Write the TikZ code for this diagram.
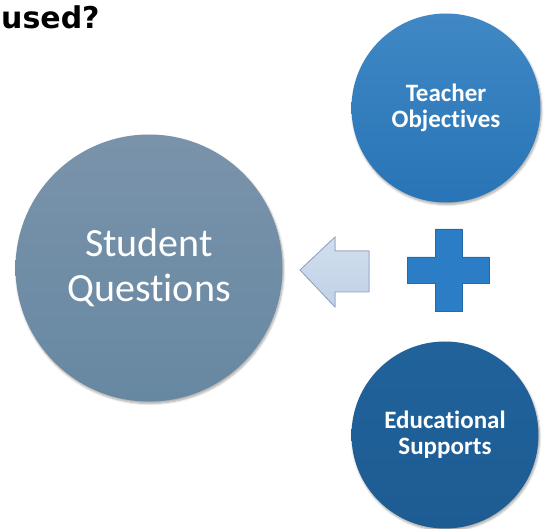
\documentclass[tikz,border=0pt]{standalone}
\usepackage{fontspec}
\setmainfont{DejaVu Sans}
\newfontfamily\calib[Ligatures=NoCommon]{Carlito}
\usetikzlibrary{shadows.blur}
\definecolor{bigtop}{HTML}{7A93AB}
\definecolor{bigbot}{HTML}{6788A2}
\definecolor{toptop}{HTML}{4088C5}
\definecolor{topbot}{HTML}{2874B6}
\definecolor{bottop}{HTML}{21629B}
\definecolor{botbot}{HTML}{1D5C93}
\definecolor{arrfill}{HTML}{C6D6EB}
\definecolor{arrline}{HTML}{8FA3BF}
\definecolor{plusc}{HTML}{2B7DC6}
\begin{document}
\begin{tikzpicture}[x=1pt,y=-1pt,
  circ/.style={circle,inner sep=0pt,text=white,align=center,blur shadow={shadow xshift=1pt,shadow yshift=-2pt,shadow blur steps=6,shadow opacity=35}},
  smalltxt/.style={font=\calib\bfseries\fontsize{25}{26}\selectfont},
  bigtxt/.style={font=\calib\fontsize{40}{45}\selectfont}]
\useasboundingbox (0,0) rectangle (544,529);
\node[anchor=base west,font=\bfseries\fontsize{30}{32}\selectfont,inner sep=0pt] (title) at (1,29) {used?};
\node[circ,minimum size=267pt,top color=bigtop,bottom color=bigbot,bigtxt] (sq) at (149,268) {Student\\Questions};
\node[circ,minimum size=189pt,top color=toptop,bottom color=topbot,smalltxt] (to) at (446,108) {Teacher\\Objectives};
\node[circ,minimum size=187pt,top color=bottop,bottom color=botbot,smalltxt] (es) at (445,435) {Educational\\Supports};
\filldraw[draw=arrline,top color=arrfill!80!white,bottom color=arrfill!90!arrline,line width=0.8pt]
  (300,270) -- (335,237) -- (335,251) -- (369,251) -- (369,292) -- (335,292) -- (335,307) -- cycle;
\filldraw[draw=plusc!85!black,fill=plusc,line width=0.5pt]
  (435,229) -- (462,229) -- (462,257) -- (489,257) -- (489,283) -- (462,283) -- (462,311) -- (435,311) -- (435,283) -- (407,283) -- (407,257) -- (435,257) -- cycle;
\end{tikzpicture}
\end{document}
